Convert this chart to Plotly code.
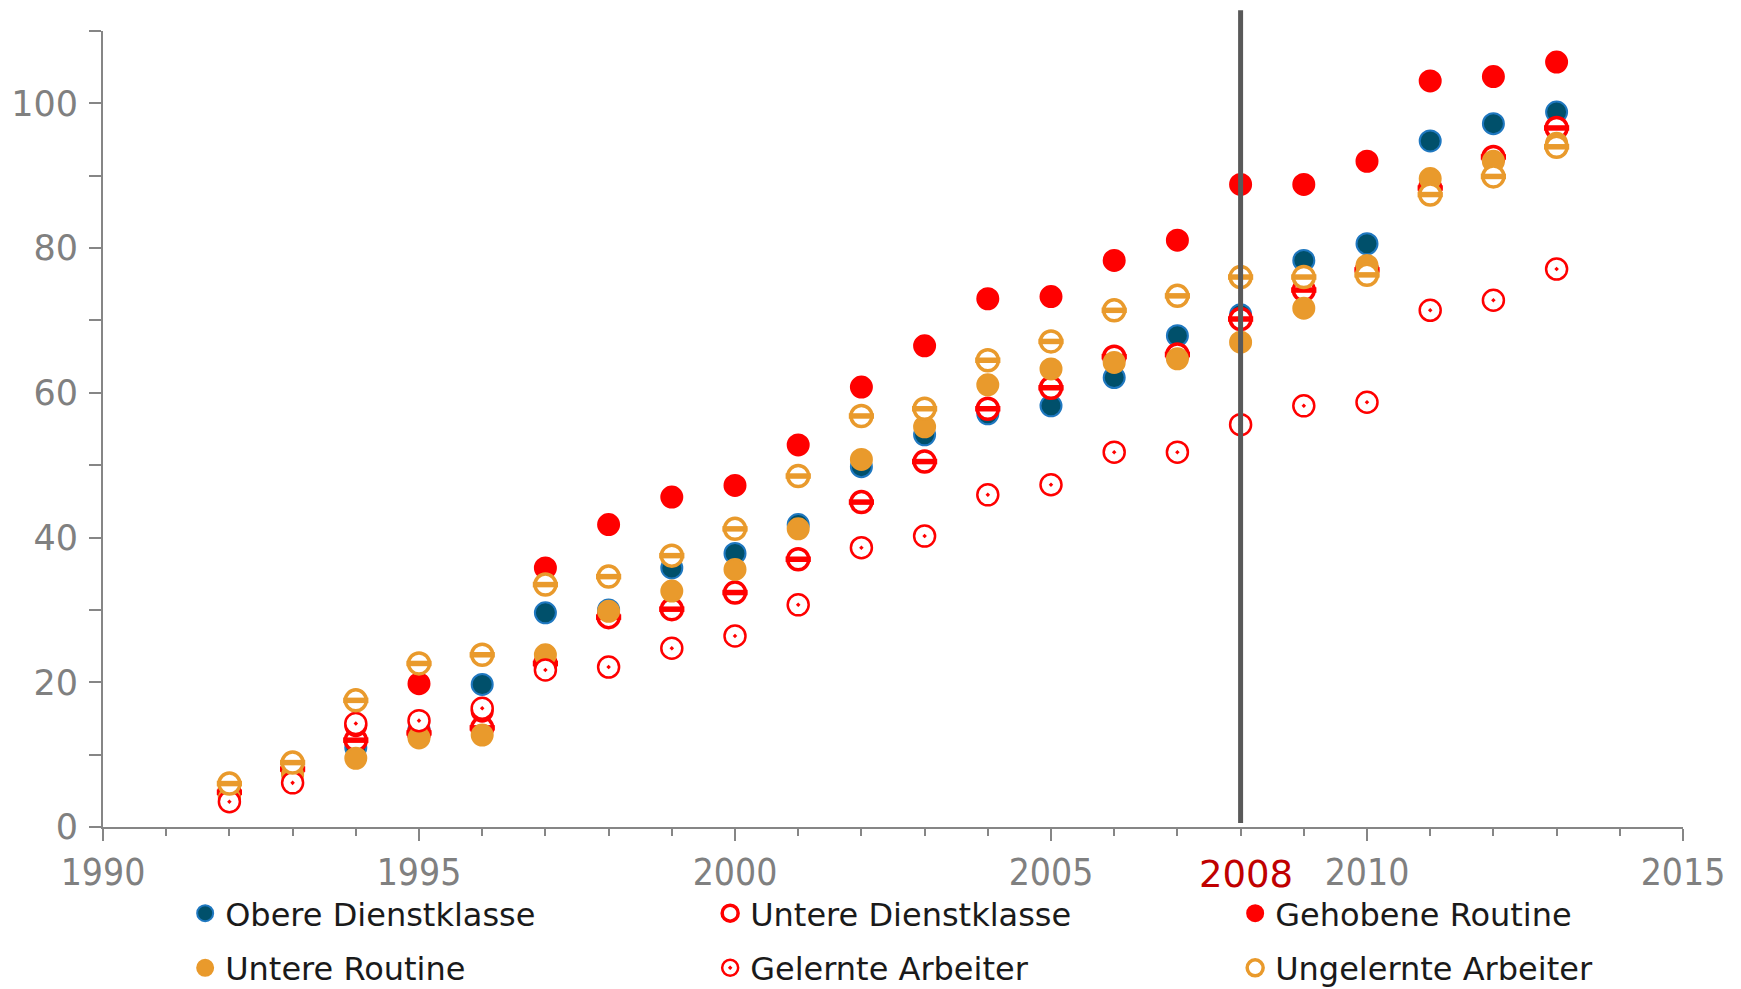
import plotly.graph_objects as go

years = list(range(1992, 2014))

obere_dienstklasse = [4.2, 7.5, 11.0, 13.5, 19.7, 29.6, 30.0, 35.8, 37.8, 41.8, 49.8,
                      54.2, 57.1, 58.2, 62.1, 67.9, 70.8, 78.3, 80.6, 94.8, 97.2, 98.8]
untere_dienstklasse = [4.8, 8.0, 12.0, 13.0, 13.7, 22.6, 29.0, 30.1, 32.4, 37.0, 44.9,
                       50.5, 57.8, 60.7, 65.0, 65.3, 70.2, 74.2, 77.0, 88.3, 92.6, 96.6]
gehobene_routine = [4.0, 7.8, 14.0, 19.8, 16.0, 35.8, 41.8, 45.6, 47.2, 52.8, 60.8,
                    66.5, 73.0, 73.3, 78.3, 81.1, 88.8, 88.8, 92.0, 103.1, 103.7, 105.7]
untere_routine = [4.0, 7.2, 9.5, 12.3, 12.7, 23.8, 29.8, 32.6, 35.6, 41.2, 50.8,
                  55.3, 61.1, 63.3, 64.2, 64.7, 67.0, 71.7, 77.6, 89.6, 92.0, 94.5]
gelernte_arbeiter = [3.5, 6.1, 14.3, 14.7, 16.4, 21.7, 22.1, 24.7, 26.4, 30.7, 38.6,
                     40.2, 45.9, 47.3, 51.8, 51.8, 55.6, 58.2, 58.7, 71.4, 72.8, 77.1]
ungelernte_arbeiter = [6.0, 8.9, 17.5, 22.6, 23.8, 33.5, 34.6, 37.5, 41.2, 48.5, 56.8,
                       57.8, 64.5, 67.1, 71.4, 73.4, 76.0, 76.0, 76.3, 87.4, 89.9, 94.0]

x_ticks = [1990, 1995, 2000, 2005, 2010, 2015]
y_ticks = [0, 20, 40, 60, 80, 100]
marker_year = 2008

RED = "#FF0000"
ORANGE = "#E99A2C"
TEAL = "#00506B"
BLUE = "#1F78C0"
MS = 21

fig = go.Figure()

def solid(name, vals, fill, line):
    fig.add_trace(go.Scatter(x=years, y=vals, mode="markers", name=name,
                             legendgroup=name,
                             marker=dict(symbol="circle", size=MS, color=fill,
                                         line=dict(color=line, width=2))))

def striped(name, vals, col):
    fig.add_trace(go.Scatter(x=years, y=vals, mode="markers", name=name,
                             legendgroup=name,
                             marker=dict(symbol="circle", size=MS, color="white",
                                         line=dict(color=col, width=3.5))))
    fig.add_trace(go.Scatter(x=years, y=vals, mode="markers", name=name,
                             legendgroup=name, showlegend=False, hoverinfo="skip",
                             marker=dict(symbol="line-ew", size=MS - 3, color=col,
                                         line=dict(color=col, width=5.5))))

def dotted(name, vals, col):
    fig.add_trace(go.Scatter(x=years, y=vals, mode="markers", name=name,
                             legendgroup=name,
                             marker=dict(symbol="circle-dot", size=MS, color="white",
                                         line=dict(color=col, width=2.5))))

solid("Obere Dienstklasse", obere_dienstklasse, TEAL, BLUE)
striped("Untere Dienstklasse", untere_dienstklasse, RED)
solid("Gehobene Routine", gehobene_routine, RED, RED)
solid("Untere Routine", untere_routine, ORANGE, ORANGE)
dotted("Gelernte Arbeiter", gelernte_arbeiter, RED)
striped("Ungelernte Arbeiter", ungelernte_arbeiter, ORANGE)

fig.add_shape(type="line", xref="x", yref="paper", x0=marker_year, x1=marker_year,
              y0=0.005, y1=1.026, line=dict(color="#595959", width=5))

fig.add_annotation(x=marker_year, xref="x", y=-0.06, yref="paper",
                   text=str(marker_year), showarrow=False, xanchor="center",
                   yanchor="middle", xshift=5,
                   font=dict(family="DejaVu Sans", size=37, color="#C00000"))

axis_col = "#868686"
fig.update_layout(
    width=1741, height=989,
    margin=dict(l=95, r=66, t=23, b=170, autoexpand=False),
    paper_bgcolor="white", plot_bgcolor="white",
    font=dict(family="DejaVu Sans", size=28, color="#808080"),
    showlegend=True,
    legend=dict(orientation="h", x=0.052, xanchor="left", y=-0.074, yanchor="top",
                entrywidth=480, entrywidthmode="pixels",
                font=dict(family="DejaVu Sans", size=32, color="#1a1a1a"),
                bgcolor="rgba(0,0,0,0)", itemclick=False),
    xaxis=dict(range=[1990, 2015], tickvals=x_ticks, showgrid=False, zeroline=False,
               showline=True, linecolor=axis_col, linewidth=2,
               ticks="outside", ticklen=12, tickwidth=2, tickcolor=axis_col,
               ticklabelstandoff=0,
               tickfont=dict(family="DejaVu Sans Condensed", size=37, color="#808080"),
               minor=dict(dtick=1, ticks="outside", ticklen=7, tickwidth=2,
                          tickcolor=axis_col, showgrid=False)),
    yaxis=dict(range=[0, 110], tickvals=y_ticks, showgrid=False, zeroline=False,
               showline=True, linecolor=axis_col, linewidth=2,
               ticks="outside", ticklen=12, tickwidth=2, tickcolor=axis_col,
               ticklabelstandoff=4,
               tickfont=dict(family="DejaVu Sans", size=35, color="#808080"),
               minor=dict(dtick=10, ticks="outside", ticklen=12, tickwidth=2,
                          tickcolor=axis_col, showgrid=False)),
)

fig.write_html("out.html")
